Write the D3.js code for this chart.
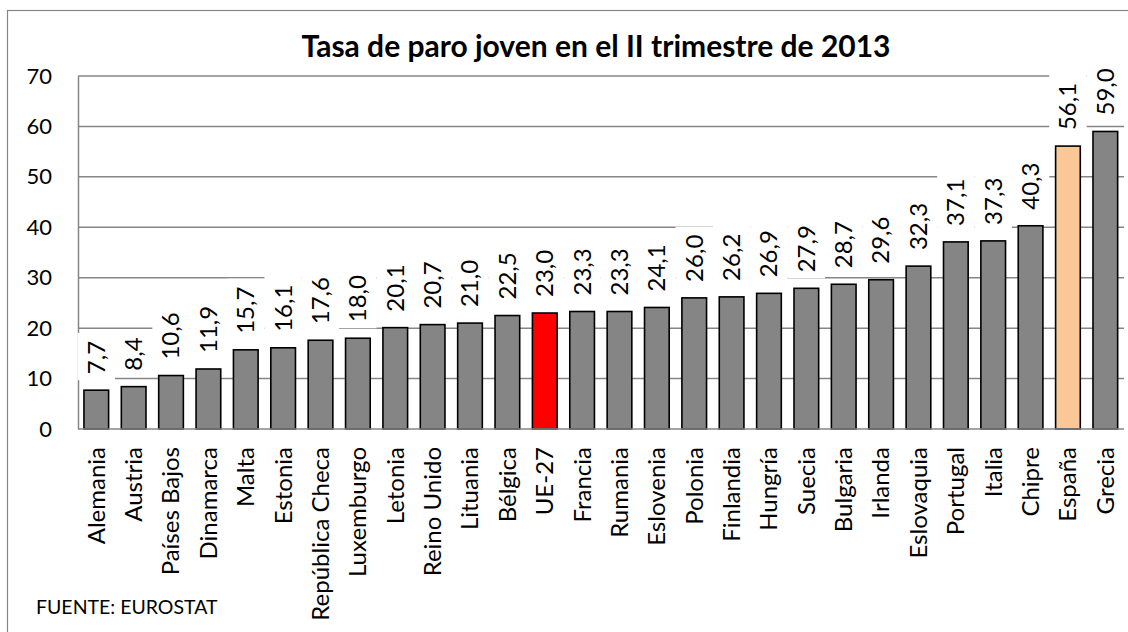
<!DOCTYPE html>
<html lang="es">
<head>
<meta charset="UTF-8">
<title>Tasa de paro joven</title>
<style>
  body { margin: 0; background: #fff; }
  svg text { font-family: Lato, "Open Sans", sans-serif; fill: #000; }
</style>
</head>
<body>
<div id="chart"></div>
<script src="https://d3js.org/d3.v7.min.js"></script>
<script>
// datos
var paises = ["Alemania", "Austria", "Países Bajos", "Dinamarca", "Malta", "Estonia",
  "República Checa", "Luxemburgo", "Letonia", "Reino Unido", "Lituania", "Bélgica",
  "UE-27", "Francia", "Rumania", "Eslovenia", "Polonia", "Finlandia", "Hungría",
  "Suecia", "Bulgaria", "Irlanda", "Eslovaquia", "Portugal", "Italia", "Chipre",
  "España", "Grecia"];
var tasas = [7.7, 8.4, 10.6, 11.9, 15.7, 16.1, 17.6, 18.0, 20.1, 20.7, 21.0, 22.5,
  23.0, 23.3, 23.3, 24.1, 26.0, 26.2, 26.9, 27.9, 28.7, 29.6, 32.3, 37.1, 37.3, 40.3,
  56.1, 59.0];
var yTicks = [0, 10, 20, 30, 40, 50, 60, 70];
var destacados = { "UE-27": "#ff0000", "España": "#fac896" };

var W = 1128, H = 632;
var data = paises.map(function(p, i) { return { pais: p, valor: tasas[i] }; });

var svg = d3.select("#chart").append("svg")
  .attr("width", W).attr("height", H);

// marco exterior
svg.append("rect")
  .attr("x", 7.5).attr("y", 10.5)
  .attr("width", 1130).attr("height", 640)
  .attr("fill", "#fff").attr("stroke", "#868686").attr("stroke-width", 1.2);

var x = d3.scaleBand()
  .domain(paises)
  .range([77.6, 1124])
  .paddingInner(0.34)
  .paddingOuter(0.17);

var y = d3.scaleLinear()
  .domain([0, 70])
  .range([429, 76]);

// titulo
svg.append("text")
  .attr("x", 596).attr("y", 57)
  .attr("text-anchor", "middle")
  .style("font-size", "30px").style("font-weight", "bold")
  .text("Tasa de paro joven en el II trimestre de 2013");

// lineas de la cuadricula
svg.append("g").selectAll("line")
  .data(yTicks.filter(function(d) { return d > 0; }))
  .enter().append("line")
    .attr("x1", 78).attr("x2", 1124)
    .attr("y1", function(d) { return y(d); })
    .attr("y2", function(d) { return y(d); })
    .attr("stroke", "#868686").attr("stroke-width", 1.5);

// eje y
var yAxis = svg.append("g")
  .attr("transform", "translate(78,0)")
  .call(d3.axisLeft(y).tickValues(yTicks).tickSize(0).tickPadding(26));
yAxis.select(".domain").attr("stroke", "#868686").attr("stroke-width", 1.5);
yAxis.selectAll("text").style("font-size", "22px").style("font-family", "Lato, sans-serif");

// barras
svg.append("g").selectAll("rect")
  .data(data)
  .enter().append("rect")
    .attr("x", function(d) { return x(d.pais); })
    .attr("y", function(d) { return y(d.valor); })
    .attr("width", x.bandwidth())
    .attr("height", function(d) { return y(0) - y(d.valor); })
    .attr("fill", function(d) { return destacados[d.pais] || "#858585"; })
    .attr("stroke", "#000").attr("stroke-width", 1.6);

// eje x
var xAxis = svg.append("g")
  .attr("transform", "translate(0," + y(0) + ")")
  .call(d3.axisBottom(x).tickSize(0).tickPadding(0));
xAxis.select(".domain").attr("stroke", "#868686").attr("stroke-width", 1.5)
  .attr("d", "M78,0H1124");
xAxis.selectAll("text")
  .style("font-size", "24px").style("font-family", "Lato, sans-serif")
  .attr("text-anchor", "end")
  .attr("transform", "rotate(-90)")
  .attr("x", -18).attr("y", 0).attr("dy", "0.35em");

// etiquetas de valores con fondo blanco
var fmt = function(v) { return v.toFixed(1).replace(".", ","); };
var etiquetas = svg.append("g").selectAll("g")
  .data(data)
  .enter().append("g")
    .attr("transform", function(d) {
      return "translate(" + (x(d.pais) + x.bandwidth() / 2) + "," + (y(d.valor) - 16) + ")";
    });

etiquetas.append("rect")
  .attr("class", "fondo")
  .attr("fill", "#fff");

etiquetas.append("text")
  .attr("transform", "rotate(-90)")
  .attr("dy", "0.35em")
  .style("font-size", "24px")
  .text(function(d) { return fmt(d.valor); });

etiquetas.each(function() {
  var g = d3.select(this);
  var len = g.select("text").node().getComputedTextLength();
  g.select("rect")
    .attr("x", -x.step() / 2)
    .attr("y", -len - 8)
    .attr("width", x.step())
    .attr("height", len + 14);
});

// fuente
svg.append("text")
  .attr("x", 36).attr("y", 614)
  .style("font-size", "19.5px")
  .text("FUENTE: EUROSTAT");
</script>
</body>
</html>
